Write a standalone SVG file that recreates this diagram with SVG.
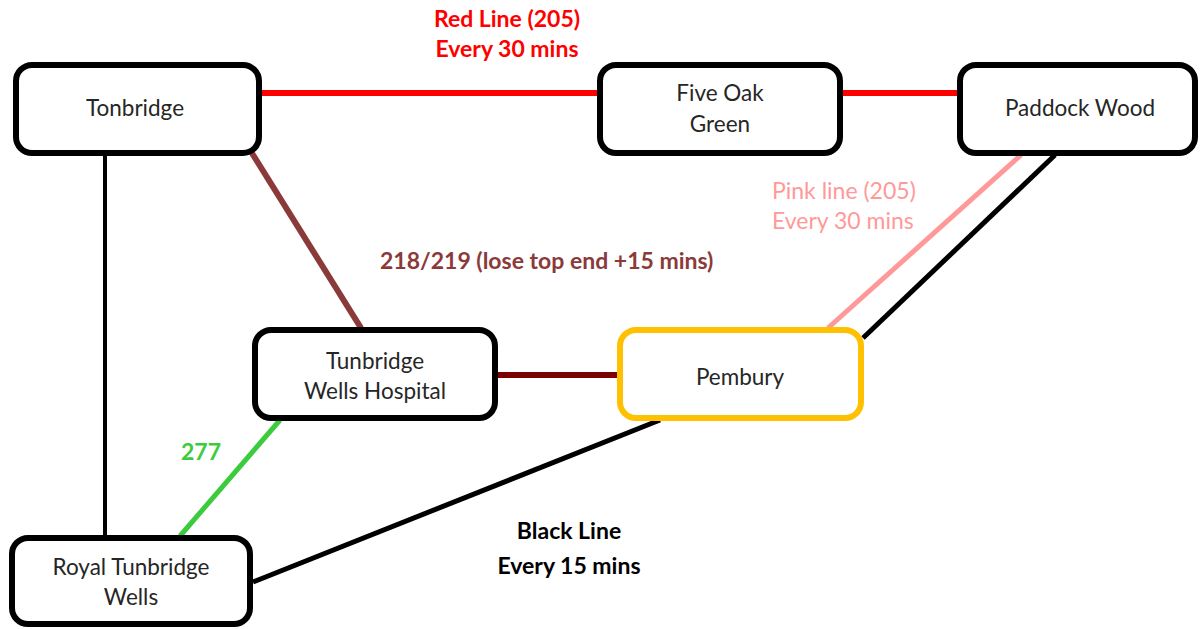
<svg xmlns="http://www.w3.org/2000/svg" width="1200" height="629" viewBox="0 0 1200 629">
  <style>
    .node rect { fill: #ffffff; stroke: #000000; stroke-width: 6; }
    .node.hub rect { stroke: #FFC000; }
    .node text { font-family: Lato, "Open Sans", sans-serif; font-size: 22.5px; fill: #262626; text-anchor: middle; }
    .line { fill: none; stroke-linecap: butt; }
    .lbl { font-family: Lato, "Open Sans", sans-serif; font-size: 23px; }
    .b { font-weight: bold; }
  </style>
  <rect width="1200" height="629" fill="#ffffff"/>

  <!-- route connectors -->
  <g id="connectors">
    <line class="line" x1="262" y1="93" x2="597" y2="93" stroke="#FF0000" stroke-width="6"/>
    <line class="line" x1="843" y1="93" x2="957" y2="93" stroke="#FF0000" stroke-width="6"/>
    <line class="line" x1="250" y1="150" x2="361" y2="328" stroke="#8B3A3A" stroke-width="6"/>
    <line class="line" x1="498" y1="375" x2="617" y2="375" stroke="#7B0000" stroke-width="6"/>
    <line class="line" x1="105" y1="155" x2="105" y2="536" stroke="#000000" stroke-width="4"/>
    <line class="line" x1="280" y1="420" x2="180" y2="536" stroke="#3CCB3C" stroke-width="5"/>
    <line class="line" x1="253" y1="582" x2="660" y2="420" stroke="#000000" stroke-width="5"/>
    <line class="line" x1="1021" y1="155" x2="828" y2="328" stroke="#FF9999" stroke-width="5"/>
    <line class="line" x1="1055" y1="155" x2="863" y2="338" stroke="#000000" stroke-width="5"/>
  </g>

  <!-- stops -->
  <g id="tonbridge" class="node">
    <rect x="16" y="65" width="243" height="88" rx="16"/>
    <text x="135" y="116">Tonbridge</text>
  </g>
  <g id="five-oak-green" class="node">
    <rect x="600" y="65" width="240" height="88" rx="16"/>
    <text x="720" y="101">Five Oak</text>
    <text x="720" y="132">Green</text>
  </g>
  <g id="paddock-wood" class="node">
    <rect x="960" y="65" width="235" height="88" rx="16"/>
    <text x="1080" y="116">Paddock Wood</text>
  </g>
  <g id="tunbridge-wells-hospital" class="node">
    <rect x="255" y="330" width="240" height="88" rx="16"/>
    <text x="375" y="369">Tunbridge</text>
    <text x="375" y="399">Wells Hospital</text>
  </g>
  <g id="pembury" class="node hub">
    <rect x="620" y="330" width="241" height="88" rx="16"/>
    <text x="740" y="385">Pembury</text>
  </g>
  <g id="royal-tunbridge-wells" class="node">
    <rect x="12" y="538" width="238" height="86" rx="16"/>
    <text x="131" y="575">Royal Tunbridge</text>
    <text x="131" y="605">Wells</text>
  </g>

  <!-- route labels -->
  <g id="labels">
    <text class="lbl b" x="507" y="27" text-anchor="middle" fill="#FF0000">Red Line (205)</text>
    <text class="lbl b" x="507" y="57" text-anchor="middle" fill="#FF0000">Every 30 mins</text>
    <text class="lbl" x="772" y="199" fill="#FF9999">Pink line (205)</text>
    <text class="lbl" x="772" y="229" fill="#FF9999">Every 30 mins</text>
    <text class="lbl b" x="380" y="269" fill="#8B3A3A">218/219 (lose top end +15 mins)</text>
    <text class="lbl b" x="181" y="460" fill="#3CCB3C">277</text>
    <text class="lbl b" x="569" y="539" text-anchor="middle" fill="#000000">Black Line</text>
    <text class="lbl b" x="569" y="574" text-anchor="middle" fill="#000000">Every 15 mins</text>
  </g>
</svg>
